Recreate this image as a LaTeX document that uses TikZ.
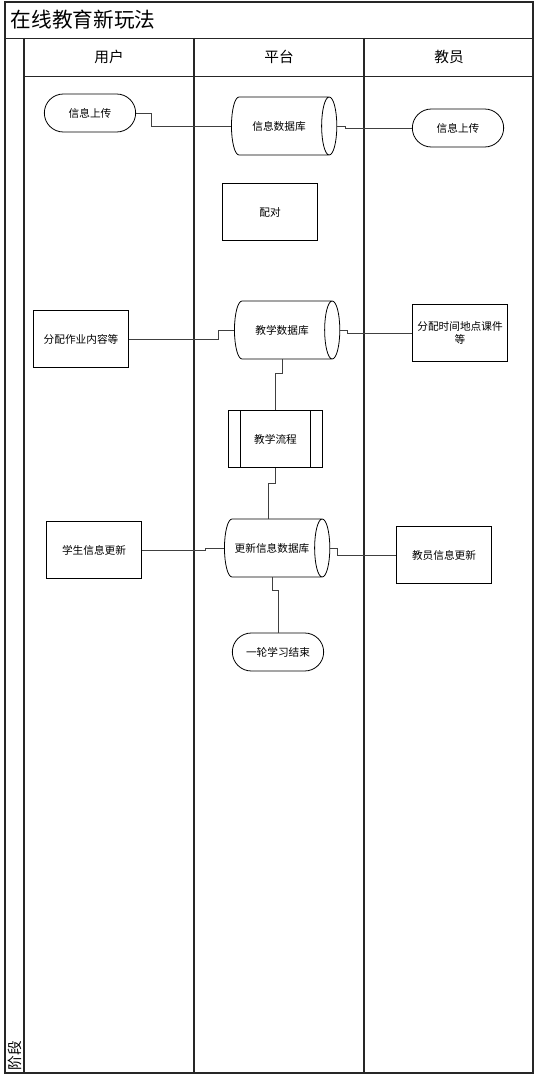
\documentclass[tikz,border=0pt]{standalone}
\usepackage{fontspec}
\newfontfamily\cjk{Noto Sans CJK SC}
\usetikzlibrary{shapes.geometric,shapes.misc}
\usepackage{xcolor}
\definecolor{framegray}{rgb}{0.15, 0.15, 0.15}
\definecolor{linkgray}{rgb}{0.25, 0.25, 0.25}
\newcommand{\lanetop}{38}
\newcommand{\lanebottom}{1073}

\begin{document}
\begin{tikzpicture}[x=0.75pt,y=-0.75pt,every path/.style={line width=0.6pt},
    every node/.style={font=\cjk\fontsize{8}{10}\selectfont,inner sep=1pt,align=center},
    term/.style={draw,rounded rectangle,minimum width=70.5pt,minimum height=28.5pt},
    proc/.style={draw,rectangle,minimum width=71pt,minimum height=43pt},
    dbase/.style={draw,cylinder,shape aspect=1.2,minimum width=43.5pt,minimum height=79pt},
    subproc/.style={proc,path picture={
        \draw ([xshift=9pt]path picture bounding box.north west) -- ([xshift=9pt]path picture bounding box.south west);
        \draw ([xshift=-9pt]path picture bounding box.north east) -- ([xshift=-9pt]path picture bounding box.south east);}},
    link/.style={draw=linkgray}]
    
    \useasboundingbox (0,0) rectangle (535,1080);
    
    % frame and title
    \draw[framegray,line width=0.9pt] (5,2) rectangle (533,\lanebottom);
    \draw[framegray] (5,\lanetop) -- (533,\lanetop);
    \node[anchor=west,font=\cjk\fontsize{15.5}{18}\selectfont] (title) at (9,20) {在线教育新玩法};
    \draw[framegray] (24,76) -- (533,76);
    
    \foreach \lx/\lname/\ltext in {24/user/用户,194/plat/平台,364/tutor/教员}{
        \draw[framegray,line width=0.8pt] (\lx,\lanetop) -- (\lx,\lanebottom);
        \node[font=\cjk\fontsize{11}{13}\selectfont] (\lname) at (\lx+85,57) {\ltext};
    }
    \node[rotate=90,anchor=west,font=\cjk\fontsize{11}{13}\selectfont,inner sep=0pt] (stage) at (15,1071) {阶段};
    
    % shapes
    \node[term] (upuser) at (90,113) {信息上传};
    \node[dbase] (infodb) at (279,126) {信息数据库};
    \node[term] (uptutor) at (458,128) {信息上传};
    \node[proc] (pair) at (270,212) {配对};
    \node[proc] (homework) at (81,339) {分配作业内容等};
    \node[dbase] (teachdb) at (282,330) {教学数据库};
    \node[proc,text width=69pt] (sched) at (460,333) {分配时间地点课件\\等};
    \node[subproc] (flow) at (275.5,439) {教学流程};
    \node[proc] (stuupd) at (94,550) {学生信息更新};
    \node[dbase] (upddb) at (272,548) {更新信息数据库};
    \node[proc] (tutupd) at (444,555) {教员信息更新};
    \node[term] (finish) at (278,652) {一轮学习结束};
    
    % links
    \draw[link] (upuser.east) -- ++(15,0) |- (infodb.west);
    \draw[link] (infodb.east) -- ++(8,0) |- (uptutor.west);
    \draw[link] (homework.east) -- ++(90,0) |- (teachdb.west);
    \draw[link] (teachdb.east) -- ++(7,0) |- (sched.west);
    \draw[link] (teachdb.south) -- ++(0,14) -| (flow.north);
    \draw[link] (flow.south) -- ++(0,15) -| ([xshift=-3pt]upddb.north);
    \draw[link] (stuupd.east) -- ++(64,0) |- (upddb.west);
    \draw[link] (upddb.east) -- ++(7,0) |- (tutupd.west);
    \draw[link] (upddb.south) -- ++(0,13) -| (finish.north);
    
\end{tikzpicture}
\end{document}
